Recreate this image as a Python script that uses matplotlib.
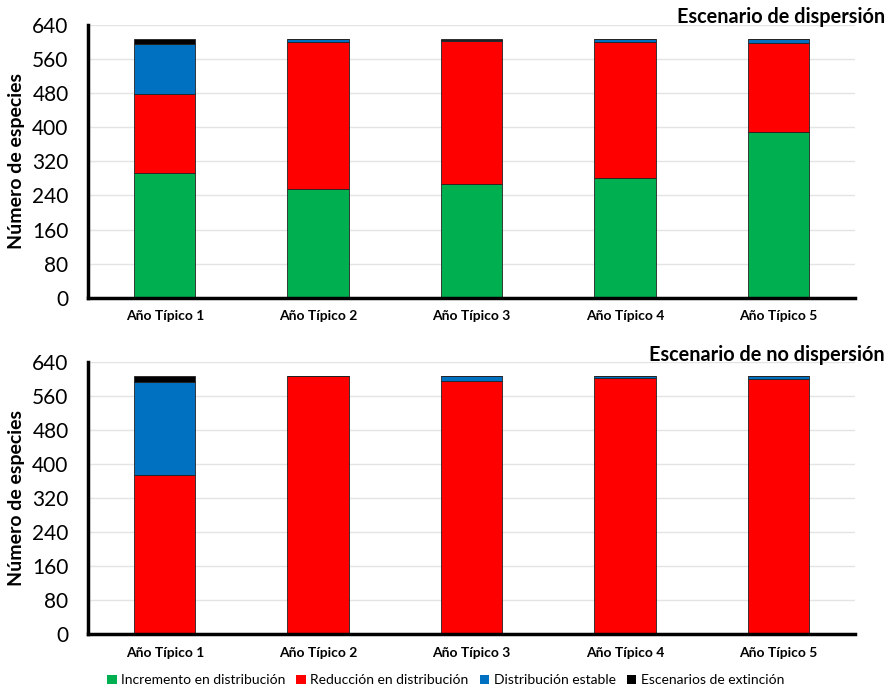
import matplotlib.pyplot as plt
from matplotlib.patches import Patch

plt.rcParams['font.family'] = ['Lato', 'DejaVu Sans']

categorias = ['Año Típico 1', 'Año Típico 2', 'Año Típico 3', 'Año Típico 4', 'Año Típico 5']
series = ['Incremento en distribución', 'Reducción en distribución',
          'Distribución estable', 'Escenarios de extinción']
colores = ['#00B050', '#FF0000', '#0070C0', '#000000']

# Escenario de dispersión
disp_incremento = [292, 255, 267, 280, 389]
disp_reduccion = [185, 345, 336, 320, 208]
disp_estable = [118, 7, 2, 7, 10]
disp_extincion = [12, 0, 2, 0, 0]

# Escenario de no dispersión
nodisp_incremento = [0, 0, 0, 0, 0]
nodisp_reduccion = [374, 607, 595, 602, 600]
nodisp_estable = [219, 0, 12, 5, 6]
nodisp_extincion = [14, 0, 0, 0, 1]

yticks = [0, 80, 160, 240, 320, 400, 480, 560, 640]

fig = plt.figure(figsize=(8.91, 6.92), dpi=100)
ax1 = fig.add_axes([0.0988, 0.5698, 0.861, 0.394])
ax2 = fig.add_axes([0.0988, 0.0838, 0.861, 0.3935])


def dibujar(ax, datos, titulo, ty):
    x = range(len(categorias))
    base = [0] * len(categorias)
    for vals, col in zip(datos, colores):
        ax.bar(x, vals, 0.4, bottom=base, color=col, edgecolor='#222222', linewidth=0.6, zorder=3)
        base = [b + v for b, v in zip(base, vals)]
    ax.set_xlim(-0.5, 4.5)
    ax.set_ylim(0, 640)
    ax.set_yticks(yticks)
    ax.set_xticks(list(x))
    ax.set_xticklabels(categorias, fontsize=10, fontweight='bold')
    ax.tick_params(axis='y', labelsize=15, length=0, pad=14)
    ax.tick_params(axis='x', length=0, pad=9)
    ax.grid(axis='y', color='#e4e4e4', linewidth=1, zorder=0)
    for s in ['top', 'right']:
        ax.spines[s].set_visible(False)
    for s in ['left', 'bottom']:
        ax.spines[s].set_linewidth(2.5)
        ax.spines[s].set_zorder(4)
    ax.set_ylabel('Número de especies', fontsize=14, fontweight='bold', labelpad=5)
    fig.text(0.993, ty, titulo, ha='right', va='center', fontsize=14.3, fontweight='bold')


dibujar(ax1, [disp_incremento, disp_reduccion, disp_estable, disp_extincion],
        'Escenario de dispersión', 0.975)
dibujar(ax2, [nodisp_incremento, nodisp_reduccion, nodisp_estable, nodisp_extincion],
        'Escenario de no dispersión', 0.487)

handles = [Patch(facecolor=c, label=s) for c, s in zip(colores, series)]
fig.legend(handles=handles, loc='center', bbox_to_anchor=(0.5, 0.017), ncol=4, frameon=False,
           fontsize=10, handlelength=0.7, handleheight=0.7, handletextpad=0.3, columnspacing=0.8)

fig.savefig('out.png', dpi=100)
